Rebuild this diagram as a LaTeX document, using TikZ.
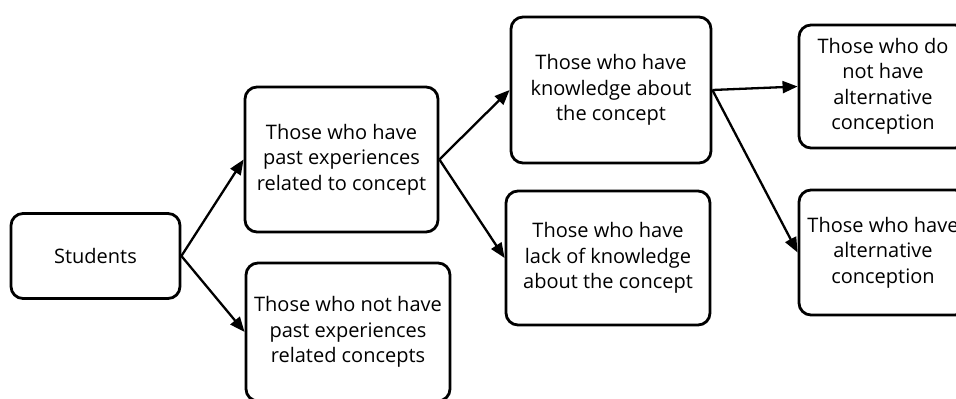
\documentclass[tikz,border=0pt]{standalone}
\usepackage{fontspec}
\setmainfont{Open Sans}
\usetikzlibrary{arrows.meta}
\tikzset{
  box/.style={draw=black, line width=2.8pt, rounded corners=12pt, fill=white, align=center,
    inner sep=0pt, font=\fontsize{20}{25.5}\selectfont},
  conn/.style={line width=2.3pt, -{Triangle[length=15pt,width=12pt]}}
}
\begin{document}
\begin{tikzpicture}[x=1pt,y=-1pt]
\useasboundingbox (0,0) rectangle (956,399);
\clip (0,0) rectangle (956,399);
\fill[white] (0,0) rectangle (956,399);
\node[box, minimum width=169pt, minimum height=85pt] (s) at (95.5,256) {Students};
\node[box, minimum width=193pt, minimum height=145pt] (a) at (341.5,159.5) {Those who have\\past experiences\\related to concept};
\node[box, minimum width=204pt, minimum height=138pt] (b) at (348,332) {Those who not have\\past experiences\\related concepts};
\node[box, minimum width=200pt, minimum height=146pt] (c) at (611,90) {Those who have\\knowledge about\\the concept};
\node[box, minimum width=204pt, minimum height=134pt] (d) at (608,258) {Those who have\\lack of knowledge\\about the concept};
\node[box, minimum width=168pt, minimum height=123pt] (e) at (883,86.5) {Those who do\\not have\\alternative\\conception};
\node[box, minimum width=168pt, minimum height=125pt] (f) at (883,252.5) {Those who have\\alternative\\conception};
\draw[conn] (s.east) -- (a.west);
\draw[conn] (s.east) -- (b.west);
\draw[conn] (a.east) -- (c.west);
\draw[conn] (a.east) -- (d.west);
\draw[conn] (c.east) -- (e.west);
\draw[conn] (c.east) -- (f.west);
\end{tikzpicture}
\end{document}
